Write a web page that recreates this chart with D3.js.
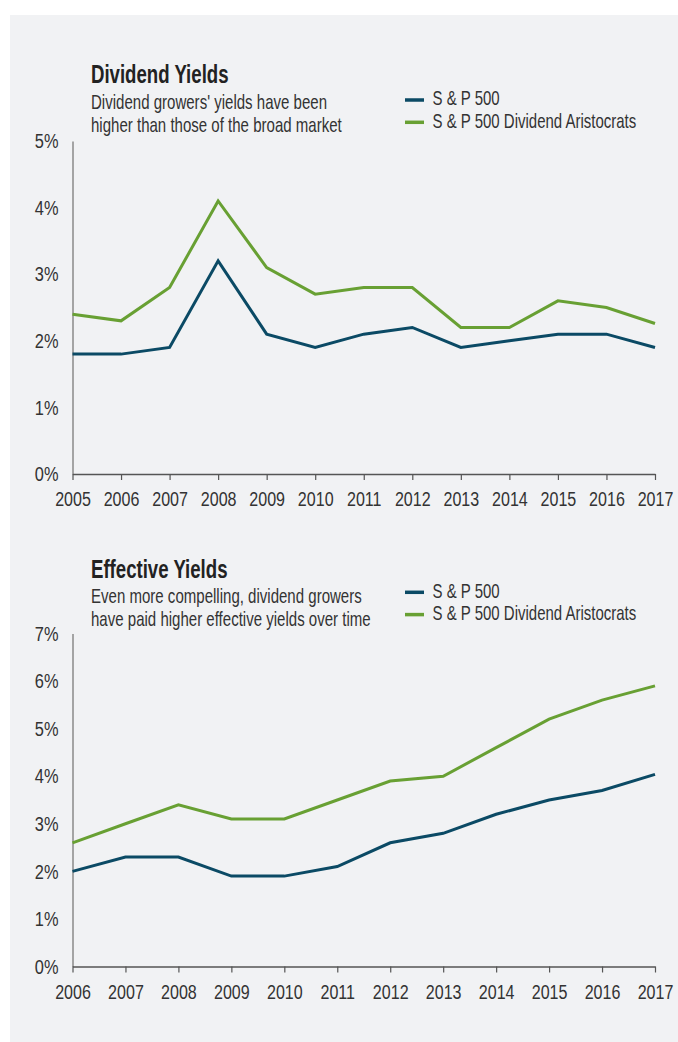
<!DOCTYPE html>
<html>
<head>
<meta charset="utf-8">
<script src="https://cdn.jsdelivr.net/npm/d3@7"></script>
<style>
  html, body { margin: 0; padding: 0; background: #fff; }
  svg { display: block; }
  text { font-family: "Liberation Sans", Arial, sans-serif; fill: #333; }
</style>
</head>
<body>
<svg width="678" height="1042"></svg>
<script>
// chart 1 : dividend yields
const years1 = [2005, 2006, 2007, 2008, 2009, 2010, 2011, 2012, 2013, 2014, 2015, 2016, 2017];
const divSP = [1.8, 1.8, 1.9, 3.2, 2.1, 1.9, 2.1, 2.2, 1.9, 2.0, 2.1, 2.1, 1.9];
const divArist = [2.4, 2.3, 2.8, 4.1, 3.1, 2.7, 2.8, 2.8, 2.2, 2.2, 2.6, 2.5, 2.26];
const yTicks1 = [0, 1, 2, 3, 4, 5];

// chart 2 : effective yields
const years2 = [2006, 2007, 2008, 2009, 2010, 2011, 2012, 2013, 2014, 2015, 2016, 2017];
const effSP = [2.0, 2.3, 2.3, 1.9, 1.9, 2.1, 2.6, 2.8, 3.2, 3.5, 3.7, 4.04];
const effArist = [2.6, 3.0, 3.4, 3.1, 3.1, 3.5, 3.9, 4.0, 4.6, 5.2, 5.6, 5.9];
const yTicks2 = [0, 1, 2, 3, 4, 5, 6, 7];

const seriesNames = ["S & P 500", "S & P 500 Dividend Aristocrats"];
const colors = ["#0b4a65", "#68a033"];

var svg = d3.select("svg");

svg.append("rect")
  .attr("x", 10)
  .attr("y", 15)
  .attr("width", 668)
  .attr("height", 1027)
  .attr("fill", "#f1f2f4");

// narrow text: the original uses a condensed face, so squeeze Liberation Sans
function narrowText(g, x, y, str, size, sx) {
  return g.append("text")
    .attr("transform", "translate(" + x + "," + y + ") scale(" + sx + ",1)")
    .style("font-size", size + "px")
    .text(str);
}

function panel(opts) {
  var g = svg.append("g");

  var x = d3.scaleLinear()
    .domain(d3.extent(opts.years))
    .range([72.5, 655]);
  var y = d3.scaleLinear()
    .domain([0, d3.max(opts.ticks)])
    .range([opts.bottom, opts.top]);

  // title + subtitle
  narrowText(g, 91, opts.titleY, opts.title, 25.5, 0.73)
    .attr("font-weight", 700)
    .style("fill", "#222");
  opts.sub.forEach((s, i) => {
    narrowText(g, 91, opts.subY + i * 23, s, 20, 0.752);
  });

  // legend
  seriesNames.forEach((name, i) => {
    var ly = opts.legY + i * 22.3;
    g.append("line")
      .attr("x1", 405).attr("x2", 424)
      .attr("y1", ly).attr("y2", ly)
      .attr("stroke", colors[i])
      .attr("stroke-width", 3.5);
    narrowText(g, 432.5, ly + 5.3, name, 20, 0.75);
  });

  // y axis
  var yAxis = g.append("g")
    .attr("transform", "translate(72.5,0)")
    .call(d3.axisLeft(y).tickValues(opts.ticks).tickSize(0).tickFormat(d => d + "%"));
  yAxis.select(".domain").attr("stroke", "#8a8a8a").attr("stroke-width", 1.5);
  yAxis.selectAll("text")
    .attr("font-family", null)
    .attr("x", null)
    .attr("transform", "translate(-14,0) scale(0.78,1)")
    .style("font-size", "21px");

  // x axis
  var xAxis = g.append("g")
    .attr("transform", "translate(0," + opts.bottom + ")")
    .call(d3.axisBottom(x).tickValues(opts.years).tickSize(6).tickSizeOuter(0).tickPadding(11.5).tickFormat(d3.format("d")));
  xAxis.select(".domain").attr("stroke", "#555").attr("stroke-width", 1.5);
  xAxis.selectAll(".tick line").attr("stroke", "#555").attr("stroke-width", 1.2);
  xAxis.selectAll("text")
    .attr("font-family", null)
    .attr("transform", "scale(0.765,1)")
    .style("font-size", "21px");

  var line = d3.line()
    .x((d, i) => x(opts.years[i]))
    .y(d => y(d));

  [opts.sp, opts.arist].forEach((vals, i) => {
    g.append("path")
      .datum(vals)
      .attr("d", line)
      .attr("fill", "none")
      .attr("stroke", colors[i])
      .attr("stroke-width", 3);
  });
}

panel({
  years: years1, sp: divSP, arist: divArist, ticks: yTicks1,
  top: 141, bottom: 474,
  titleY: 83.3, subY: 109, legY: 100,
  title: "Dividend Yields",
  sub: ["Dividend growers' yields have been", "higher than those of the broad market"]
});

panel({
  years: years2, sp: effSP, arist: effArist, ticks: yTicks2,
  top: 633.5, bottom: 966.5,
  titleY: 578.3, subY: 603.3, legY: 592.3,
  title: "Effective Yields",
  sub: ["Even more compelling, dividend growers", "have paid higher effective yields over time"]
});
</script>
</body>
</html>
